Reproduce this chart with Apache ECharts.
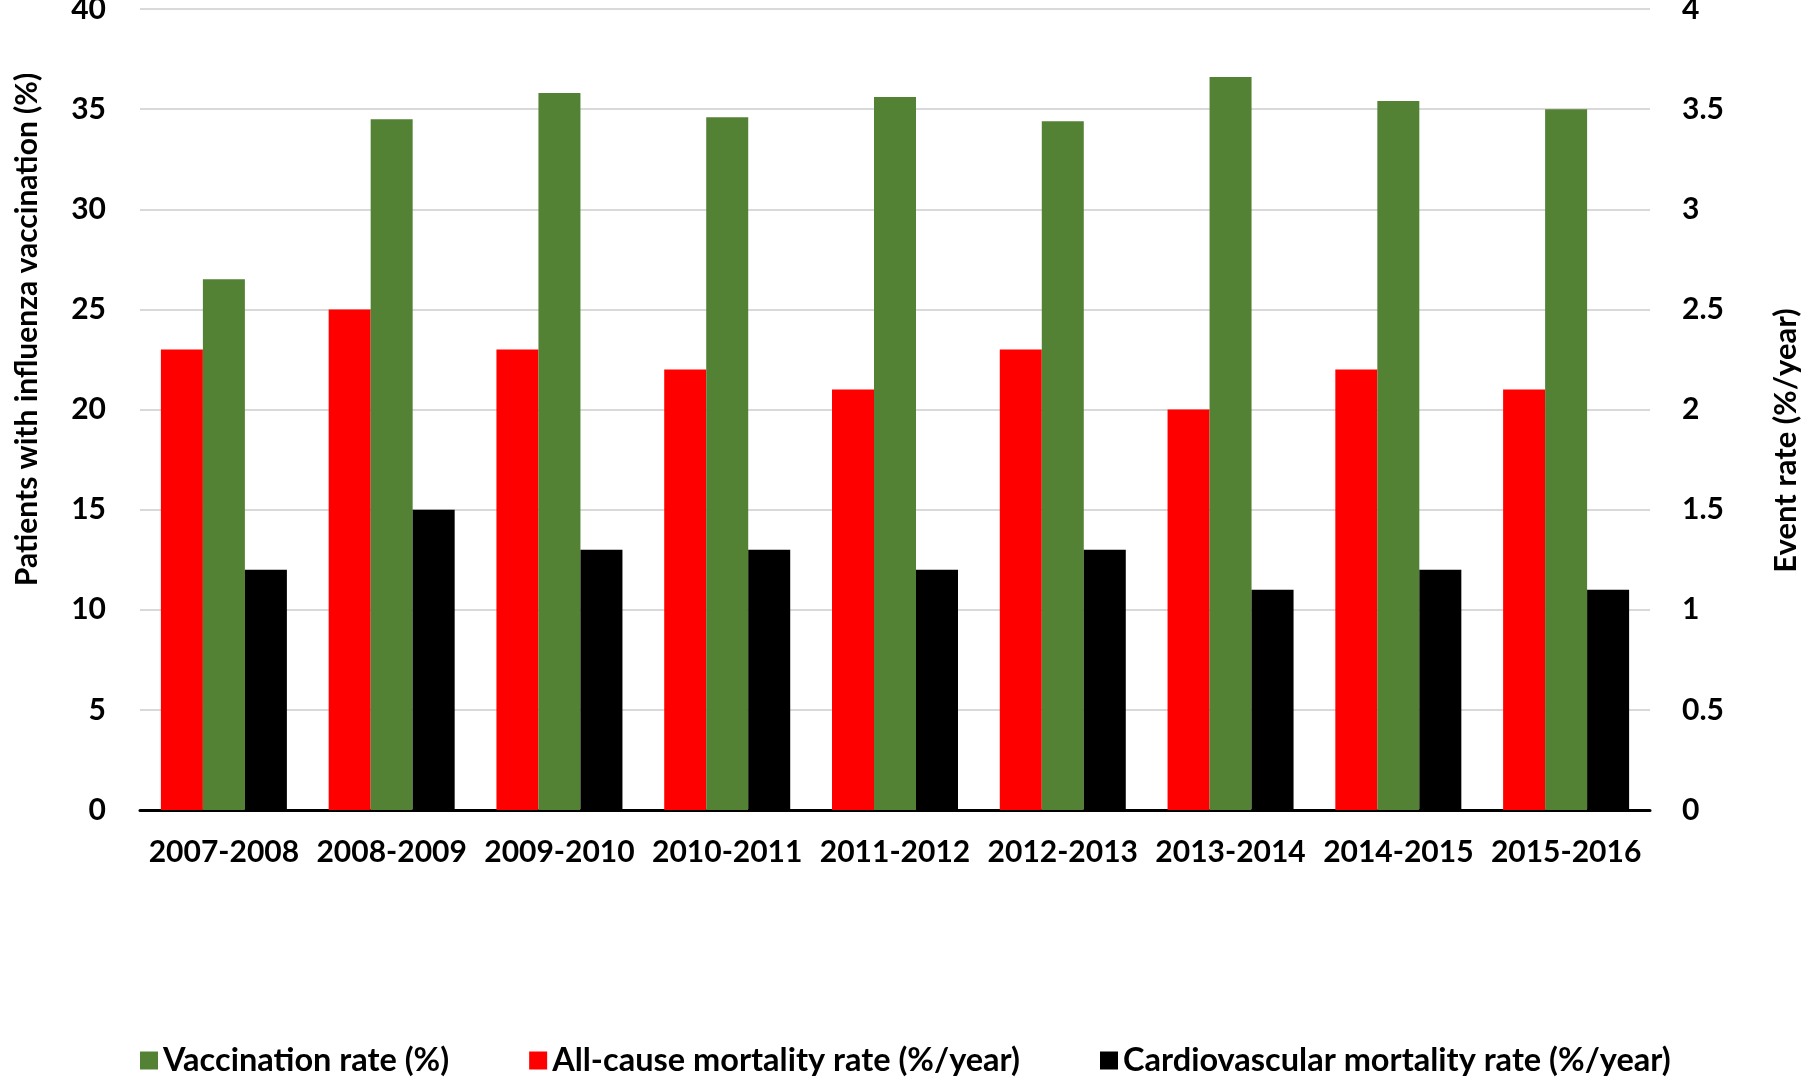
<!DOCTYPE html>
<html>
<head>
<meta charset="utf-8">
<script src="https://cdn.jsdelivr.net/npm/echarts@6/dist/echarts.min.js"></script>
<style>
  html, body { margin: 0; padding: 0; background: #fff; }
  #chart { width: 1806px; height: 1077px; }
</style>
</head>
<body>
<div id="chart"></div>
<script>
const seasons = ['2007-2008', '2008-2009', '2009-2010', '2010-2011', '2011-2012', '2012-2013', '2013-2014', '2014-2015', '2015-2016']
const vaccination = [26.5, 34.5, 35.8, 34.6, 35.6, 34.4, 36.6, 35.4, 35.0]
const allCause = [2.3, 2.5, 2.3, 2.2, 2.1, 2.3, 2.0, 2.2, 2.1]
const cardio = [1.2, 1.5, 1.3, 1.3, 1.2, 1.3, 1.1, 1.2, 1.1]

const font = 'Lato'
const green = '#548235'
const red = '#ff0000'
const black = '#000000'

const chart = echarts.init(document.getElementById('chart'))

chart.setOption({
  animation: false,
  textStyle: { fontFamily: font },
  legend: {
    data: ['Vaccination rate (%)', 'All-cause mortality rate (%/year)', 'Cardiovascular mortality rate (%/year)'],
    left: 135,
    top: 1039,
    itemWidth: 18,
    itemHeight: 18,
    itemGap: 80,
    icon: 'rect',
    textStyle: { fontFamily: font, fontWeight: 'bold', fontSize: 32.5, color: '#000' },
  },
  grid: {
    left: 140,
    right: 156,
    top: 9,
    bottom: 267,
    outerBoundsMode: 'none',
  },
  xAxis: {
    type: 'category',
    data: seasons,
    axisLine: { lineStyle: { color: '#000', width: 3 } },
    axisTick: { show: false },
    axisLabel: {
      interval: 0,
      margin: 27,
      fontFamily: font,
      fontWeight: 'bold',
      fontSize: 30,
      color: '#000',
    },
  },
  yAxis: [
    {
      type: 'value',
      min: 0,
      max: 40,
      interval: 5,
      name: 'Patients with influenza vaccination (%)',
      nameLocation: 'middle',
      nameGap: 98,
      nameTextStyle: {
        fontFamily: font,
        fontWeight: 'bold',
        fontSize: 30,
        color: '#000',
        padding: [0, 0, 0, 160],
      },
      axisLine: { show: false },
      axisTick: { show: false },
      axisLabel: {
        margin: 34,
        fontFamily: font,
        fontWeight: 'bold',
        fontSize: 30,
        color: '#000',
      },
      splitLine: { lineStyle: { color: '#d9d9d9', width: 2 } },
    },
    {
      type: 'value',
      min: 0,
      max: 4,
      interval: 0.5,
      name: 'Event rate (%/year)',
      nameLocation: 'middle',
      nameGap: 120,
      nameTextStyle: {
        fontFamily: font,
        fontWeight: 'bold',
        fontSize: 31,
        color: '#000',
        padding: [0, 62, 0, 0],
      },
      axisLine: { show: false },
      axisTick: { show: false },
      axisLabel: {
        margin: 32,
        fontFamily: font,
        fontWeight: 'bold',
        fontSize: 30,
        color: '#000',
      },
      splitLine: { show: false },
    },
  ],
  series: [
    {
      name: 'All-cause mortality rate (%/year)',
      type: 'bar',
      yAxisIndex: 1,
      data: allCause,
      barWidth: 42,
      barGap: '0%',
      itemStyle: { color: red },
    },
    {
      name: 'Vaccination rate (%)',
      type: 'bar',
      yAxisIndex: 0,
      data: vaccination,
      barWidth: 42,
      barGap: '0%',
      itemStyle: { color: green },
    },
    {
      name: 'Cardiovascular mortality rate (%/year)',
      type: 'bar',
      yAxisIndex: 1,
      data: cardio,
      barWidth: 42,
      barGap: '0%',
      itemStyle: { color: black },
    },
  ],
})
</script>
</body>
</html>
